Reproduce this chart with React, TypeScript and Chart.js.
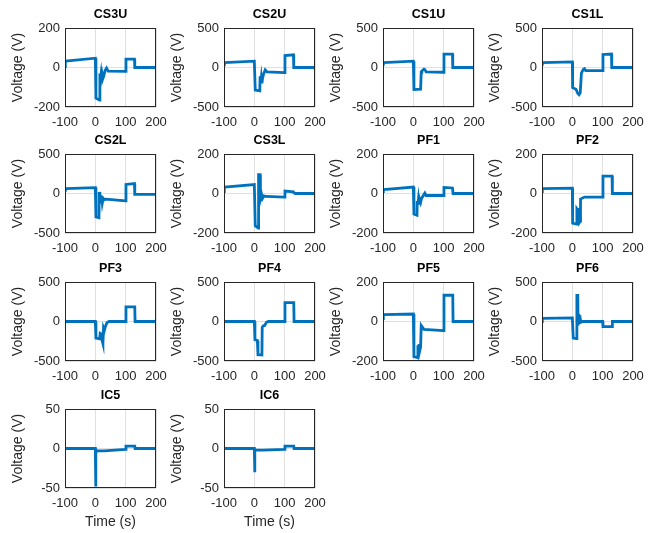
import React, { useEffect, useRef } from "react";
import { Chart, registerables } from "chart.js";

Chart.register(...registerables);

// ---------- data ----------
const PANEL_NAMES = ["CS3U", "CS2U", "CS1U", "CS1L", "CS2L", "CS3L", "PF1", "PF2", "PF3", "PF4", "PF5", "PF6", "IC5", "IC6"];
const Y_LIMITS = [200, 500, 500, 500, 500, 200, 200, 200, 500, 500, 200, 500, 50, 50];
const X_TICKS = [-100, 0, 100, 200];

const CS3U_T = [-100, -99, 0, 2, 14, 15, 17, 19, 21, 23, 25, 28, 32, 37, 42, 100, 101, 129, 130, 200];
const CS3U_V = [5, 32, 47, -155, -165, -30, -58, -32, -62, -38, -55, -42, -15, -3, -18, -20, 42, 42, 0, 0];

const CS2U_T = [-100, -99, 0, 3, 18, 19, 21, 23, 25, 27, 30, 36, 42, 100, 101, 129, 130, 200];
const CS2U_V = [35, 63, 80, -285, -295, -110, -190, -125, -200, -140, -90, -30, -55, -65, 150, 160, 0, 0];

const CS1U_T = [-100, -99, 0, 2, 24, 26, 28, 35, 38, 42, 100, 101, 129, 130, 200];
const CS1U_V = [40, 62, 80, -280, -275, -60, -45, -20, -25, -55, -60, 170, 170, 0, 0];

const CS1L_T = [-100, -99, 0, 1, 12, 18, 22, 26, 30, 36, 40, 44, 100, 101, 129, 130, 200];
const CS1L_V = [40, 62, 72, -255, -275, -330, -345, -320, -70, -25, -15, -40, -40, 165, 170, 0, 0];

const CS2L_T = [-100, -99, 0, 2, 12, 13, 15, 17, 19, 21, 23, 26, 30, 35, 100, 101, 129, 130, 200];
const CS2L_V = [40, 62, 75, -295, -305, 20, -130, -20, -110, -40, -120, -60, -80, -72, -93, 115, 125, -10, -10];

const CS3L_T = [-100, -99, 0, 3, 13, 14, 19, 20, 24, 27, 32, 38, 100, 101, 129, 131, 135, 200];
const CS3L_V = [10, 32, 45, -163, -175, 95, 95, -30, -5, -25, -12, -15, -18, 12, 8, 3, 0, 0];

const PF1_T = [-100, -99, 0, 2, 12, 13, 15, 17, 19, 21, 24, 27, 33, 38, 42, 100, 101, 129, 131, 200];
const PF1_V = [10, 20, 33, -104, -110, -38, -55, -25, -50, -30, -45, -25, -10, 2, -10, -10, 31, 28, 0, 0];

const PF2_T = [-100, -99, 0, 1, 14, 15, 18, 19, 20, 23, 24, 26, 27, 40, 100, 101, 131, 132, 200];
const PF2_V = [10, 25, 27, -150, -155, -78, -85, -145, -85, -80, -145, -140, -28, -18, -18, 88, 88, 0, 0];

const PF3_T = [-100, 0, 2, 14, 16, 20, 23, 25, 27, 30, 33, 38, 45, 100, 101, 130, 131, 200];
const PF3_V = [0, 0, -210, -220, -150, -160, -250, -280, -80, -110, -65, -15, 0, 0, 185, 185, 0, 0];

const PF4_T = [-100, 0, 2, 10, 12, 25, 26, 29, 34, 40, 46, 100, 101, 130, 131, 200];
const PF4_V = [0, 0, -230, -240, -420, -425, -75, -55, -50, -10, 0, 0, 240, 240, 0, 0];

const PF5_T = [-100, -99, 0, 2, 14, 15, 17, 19, 21, 24, 26, 35, 100, 101, 130, 131, 200];
const PF5_V = [15, 35, 38, -178, -183, -120, -150, -115, -150, -130, -20, -40, -46, 133, 133, 0, 0];

const PF6_T = [-100, -99, 0, 3, 14, 15, 18, 19, 22, 25, 28, 35, 100, 101, 131, 132, 200];
const PF6_V = [0, 40, 45, -210, -215, 330, 330, -50, 80, 60, -10, 0, 0, -65, -65, 0, 0];

const IC5_T = [-100, 0, 1, 2, 5, 30, 100, 101, 130, 131, 200];
const IC5_V = [0, 0, -48, -5, -3, -3, -1, 3, 3, 0, 0];

const IC6_T = [-100, 0, 1, 2, 5, 30, 100, 101, 130, 131, 200];
const IC6_V = [0, 0, -30, -3, -2, -2, -1, 3, 3, 0, 0];

const PANEL_TIMES = [CS3U_T, CS2U_T, CS1U_T, CS1L_T, CS2L_T, CS3L_T, PF1_T, PF2_T, PF3_T, PF4_T, PF5_T, PF6_T, IC5_T, IC6_T];
const PANEL_VALUES = [CS3U_V, CS2U_V, CS1U_V, CS1L_V, CS2L_V, CS3L_V, PF1_V, PF2_V, PF3_V, PF4_V, PF5_V, PF6_V, IC5_V, IC6_V];

// ---------- layout ----------
const COL_LEFT = [65, 224, 383, 542];
const ROW_TOP = [28, 154, 282, 409];
const PLOT_W = 91;
const PLOT_H = 79;
const FONT = "'Liberation Sans', Arial, Helvetica, sans-serif";
const TEXT_COLOR = "#262626";

function Panel({ idx }: { idx: number }) {
  const ref = useRef<HTMLCanvasElement | null>(null);
  const row = Math.floor(idx / 4);
  const col = idx % 4;
  const isBottom = idx >= 12;
  const padL = 66;
  const padT = 28;
  const padR = 18;
  const padB = isBottom ? 46 : 26;
  const left = COL_LEFT[col] - padL;
  const top = ROW_TOP[row] - padT;
  const w = PLOT_W + padL + padR;
  const h = PLOT_H + padT + padB;

  useEffect(() => {
    if (!ref.current) return;
    const R = Y_LIMITS[idx];
    const name = PANEL_NAMES[idx];
    const data = PANEL_TIMES[idx].map((t, i) => ({ x: t, y: PANEL_VALUES[idx][i] }));
    const framePlugin = {
      id: "frame" + idx,
      afterDraw(chart: any) {
        const { ctx, chartArea } = chart;
        const { left: l, top: t, right: r, bottom: b } = chartArea;
        ctx.save();
        ctx.strokeStyle = TEXT_COLOR;
        ctx.lineWidth = 1;
        ctx.strokeRect(Math.round(l) + 0.5, Math.round(t) + 0.5, Math.round(r - l) - 1, Math.round(b - t) - 1);
        ctx.fillStyle = "#000000";
        ctx.font = `bold 12.5px ${FONT}`;
        ctx.textAlign = "center";
        ctx.textBaseline = "middle";
        ctx.fillText(name, (l + r) / 2, t - 13);
        ctx.fillStyle = TEXT_COLOR;
        ctx.font = `14px ${FONT}`;
        ctx.save();
        ctx.translate(l - 47, (t + b) / 2);
        ctx.rotate(-Math.PI / 2);
        ctx.fillText("Voltage (V)", 0, 0);
        ctx.restore();
        if (isBottom) {
          ctx.fillText("Time (s)", (l + r) / 2, b + 34);
        }
        ctx.restore();
      },
    };
    const chart = new Chart(ref.current, {
      type: "line",
      data: {
        datasets: [
          {
            data,
            borderColor: "#0072BD",
            borderWidth: 2.8,
            pointRadius: 0,
            tension: 0,
            fill: false,
          },
        ],
      },
      options: {
        responsive: false,
        maintainAspectRatio: false,
        animation: false,
        events: [],
        layout: { padding: { left: 0, top: padT, right: padR, bottom: 0 } },
        plugins: {
          legend: { display: false },
          tooltip: { enabled: false },
          title: { display: false },
        },
        scales: {
          x: {
            type: "linear",
            min: -100,
            max: 200,
            afterBuildTicks: (s: any) => {
              s.ticks = X_TICKS.map((v) => ({ value: v }));
            },
            afterFit: (s: any) => {
              s.height = padB;
              s.paddingLeft = 0;
              s.paddingRight = 0;
              s.paddingTop = 0;
              s.paddingBottom = 0;
            },
            ticks: {
              font: { family: FONT, size: 13 },
              color: TEXT_COLOR,
              padding: 8,
              maxRotation: 0,
              autoSkip: false,
            },
            grid: { color: "#e0e0e0", drawTicks: false },
            border: { display: false },
          },
          y: {
            type: "linear",
            min: -R,
            max: R,
            afterBuildTicks: (s: any) => {
              s.ticks = [-R, 0, R].map((v) => ({ value: v }));
            },
            afterFit: (s: any) => {
              s.width = padL;
              s.paddingLeft = 0;
              s.paddingRight = 0;
              s.paddingTop = 0;
              s.paddingBottom = 0;
            },
            ticks: {
              font: { family: FONT, size: 13 },
              color: TEXT_COLOR,
              padding: 5,
              autoSkip: false,
            },
            grid: { color: "#e0e0e0", drawTicks: false },
            border: { display: false },
          },
        },
      } as any,
      plugins: [framePlugin],
    });
    return () => chart.destroy();
  }, [idx]);

  return (
    <canvas
      ref={ref}
      width={w}
      height={h}
      style={{ position: "absolute", left, top, width: w, height: h }}
    />
  );
}

export default function App() {
  return (
    <div style={{ position: "absolute", left: 0, top: 0, width: 660, height: 533, background: "#ffffff", overflow: "hidden" }}>
      {PANEL_NAMES.map((_, i) => (
        <Panel key={i} idx={i} />
      ))}
    </div>
  );
}
